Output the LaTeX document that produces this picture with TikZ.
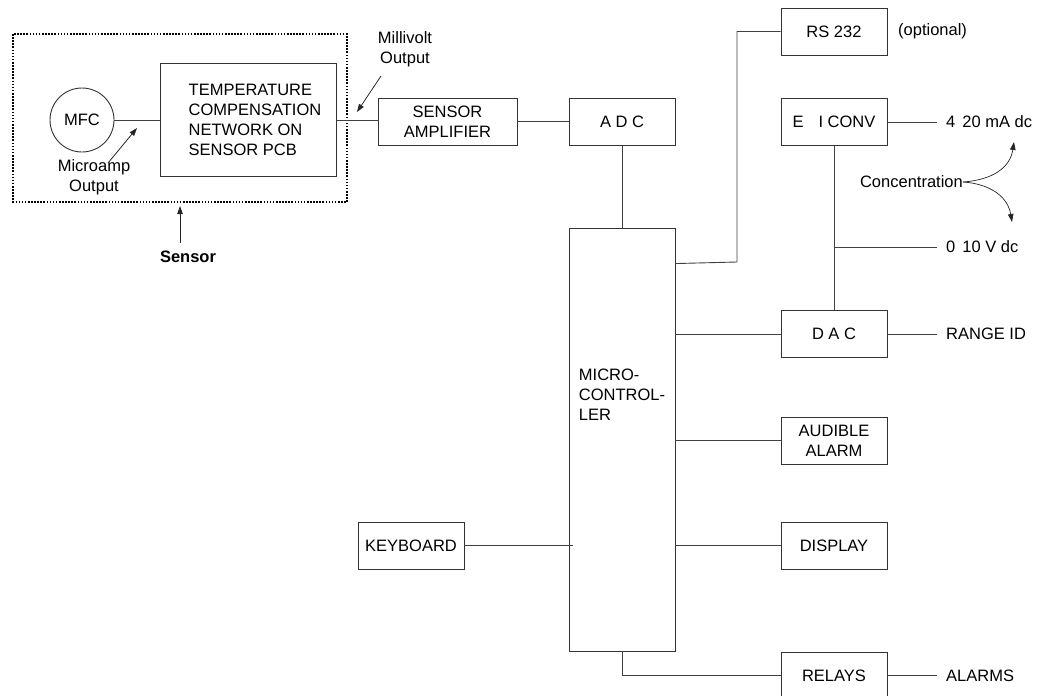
\documentclass[tikz,border=0pt]{standalone}
\usepackage{fontspec}
\setmainfont{Liberation Sans}
\usetikzlibrary{arrows.meta}

\tikzset{
  blk/.style={draw=black!80, line width=0.9pt, minimum width=106pt, minimum height=47pt, inner sep=0pt, align=center},
  outlbl/.style={anchor=west, inner xsep=9pt, inner ysep=0pt},
  wire/.style={draw=black!75, line width=0.9pt},
  arr/.style={draw=black!85, line width=0.8pt, -{Triangle[length=8pt,width=5.5pt]}}
}

\begin{document}
\begin{tikzpicture}[x=1pt, y=-1pt, font=\fontsize{16.5}{20}\selectfont]
  \useasboundingbox (0,0) rectangle (1044,696);

  % sensor part
  \draw[draw=black, line width=1.3pt, dash pattern=on 1.6pt off 1.5pt] (13,34) rectangle (347,202);
  \node[draw=black!80, line width=0.9pt, circle, minimum size=64pt, inner sep=0pt] (mfc) at (82,120) {MFC};
  \node[blk, minimum width=176pt, minimum height=113pt,
        label={[align=left, xshift=7pt]center:TEMPERATURE\\COMPENSATION\\NETWORK ON\\SENSOR PCB}] (tcn) at (248,120) {};
  \node[align=center, inner sep=0pt] (uamp) at (94,177.5) {Microamp\\Output};
  \node[align=center, inner sep=0pt] (mvolt) at (405,49) {Millivolt\\Output};
  \node[inner sep=0pt, font=\fontsize{16.5}{20}\selectfont\bfseries] (snsr) at (188,257) {Sensor};
  \coordinate (uatail) at (108,163);
  \coordinate (uatip) at (137,128);
  \coordinate (mvtail) at (381,76);
  \coordinate (mvtip) at (357,112);
  \coordinate (sntail) at (180,243);
  \coordinate (sntip) at (180,206);

  % main blocks
  \node[blk, minimum width=139pt] (amp) at (447.5,121.5) {SENSOR\\AMPLIFIER};
  \node[blk] (adc) at (622,121.5) {A D C};
  \node[blk, minimum height=423pt,
        label={[align=left, yshift=44.5pt]center:MICRO-\\CONTROL-\\LER}] (micro) at (622,439.5) {};
  \node[blk] (kbd) at (411,545.5) {KEYBOARD};

  % right column
  \node[blk] (rs) at (834,31.5) {RS 232};
  \node[blk] (eic) at (834,122) {E\hspace{15pt}I CONV};
  \node[blk] (dac) at (834,334) {D A C};
  \node[blk] (aud) at (834,440.5) {AUDIBLE\\ALARM};
  \node[blk] (disp) at (834,545.5) {DISPLAY};
  \node[blk] (rly) at (834,675.5) {RELAYS};

  % outputs
  \node[anchor=west, inner sep=0pt] (opt) at (898,31.5) {(optional)};
  \node[outlbl] (ma) at (937,122) {4\hspace{7pt}20 mA dc};
  \node[outlbl] (vdc) at (937,247) {0\hspace{7pt}10 V dc};
  \node[outlbl] (rid) at (937,334) {RANGE ID};
  \node[outlbl] (alm) at (937,675.5) {ALARMS};
  \node[anchor=east, inner sep=0pt] (conc) at (963,182) {Concentration};
  \coordinate (cup) at (1014,142);
  \coordinate (cdn) at (1012,222);
  \coordinate (rsbend) at (737,262);

  % connections
  \draw[wire] (mfc) -- (tcn);
  \draw[wire] (tcn.east) -- (tcn.east -| amp.west);
  \draw[wire] (amp) -- (adc);
  \draw[wire] (adc) -- (micro);
  \draw[wire] ([yshift=-36pt]micro.north east) -- (rsbend) |- (rs);
  \draw[wire] (eic) -- (ma);
  \draw[wire] (eic) -- (dac);
  \draw[wire] (eic |- vdc) -- (vdc);
  \draw[wire] (micro.east |- dac) -- (dac);
  \draw[wire] (dac) -- (rid);
  \draw[wire] (micro.east |- aud) -- (aud);
  \draw[wire] (micro.east |- disp) -- (disp);
  \draw[wire] (kbd.east) -- ([xshift=4pt]kbd -| micro.west);
  \draw[wire] (micro.south) |- (rly);
  \draw[wire] (rly) -- (alm);

  % annotation arrows
  \draw[arr] (uatail) -- (uatip);
  \draw[arr] (mvtail) -- (mvtip);
  \draw[arr] (sntail) -- (sntip);
  \draw[arr, line width=0.7pt] (conc.east) .. controls (992,180) and (1010,168) .. (cup);
  \draw[arr, line width=0.7pt] (conc.east) .. controls (992,184) and (1008,198) .. (cdn);
\end{tikzpicture}
\end{document}
